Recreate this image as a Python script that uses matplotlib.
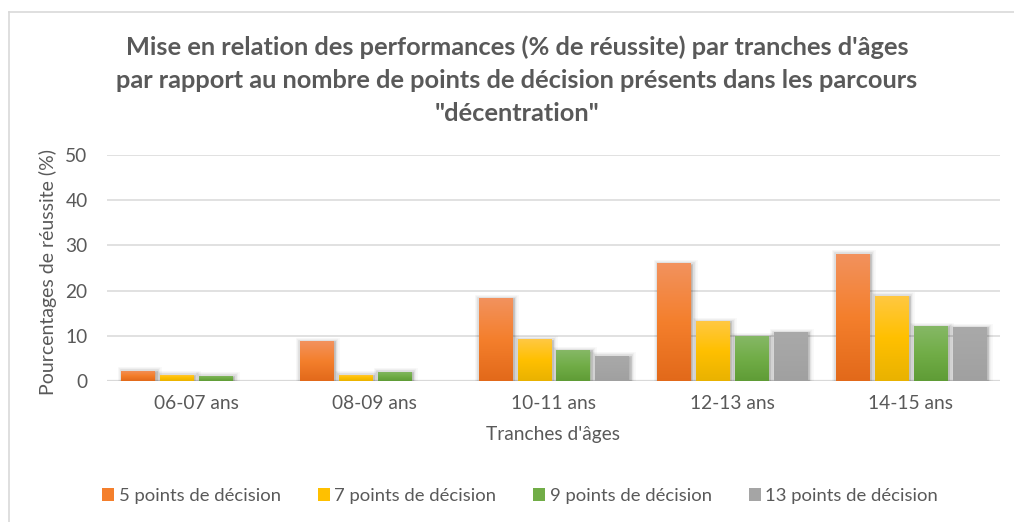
import numpy as np
import matplotlib
matplotlib.use("Agg")
import matplotlib.pyplot as plt
import matplotlib.patheffects as pe
from matplotlib.colors import LinearSegmentedColormap
from matplotlib.lines import Line2D
from matplotlib.patches import Patch

plt.rcParams["font.family"] = ["Lato", "DejaVu Sans"]

# Data
age_groups = ["06-07 ans", "08-09 ans", "10-11 ans", "12-13 ans", "14-15 ans"]
series_names = ["5 points de décision", "7 points de décision",
                "9 points de décision", "13 points de décision"]
pts5 = [2.3, 8.8, 18.3, 26.0, 28.2]
pts7 = [1.4, 1.4, 9.2, 13.2, 18.9]
pts9 = [1.2, 2.1, 6.8, 9.9, 12.1]
pts13 = [np.nan, np.nan, 5.6, 10.8, 11.9]
y_ticks = [0, 10, 20, 30, 40, 50]

title = ("Mise en relation des performances (% de réussite) par tranches d'âges\n"
         "par rapport au nombre de points de décision présents dans les parcours\n"
         "\"décentration\"")
x_label = "Tranches d'âges"
y_label = "Pourcentages de réussite (%)"

# Styling
text_col = "#595959"
grid_col = "#D9D9D9"
# (top, middle, bottom) gradient stops per series
gradients = [
    ("#F2925E", "#F47F2C", "#E2691A"),
    ("#FFC843", "#FFC000", "#E9B200"),
    ("#86B866", "#71AD47", "#5F9C36"),
    ("#A9A9A9", "#A5A5A5", "#A0A0A0"),
]

fig = plt.figure(figsize=(10.14, 5.22), dpi=100)
ax = fig.add_axes([107 / 1014, 1 - 381 / 522, 893 / 1014, 226 / 522])

x = np.arange(len(age_groups))
bar_w = 0.185
step = 0.218
all_series = [pts5, pts7, pts9, pts13]

shadow = [
    pe.Stroke(linewidth=8, foreground="black", alpha=0.025, offset=(1.0, -1.0)),
    pe.Stroke(linewidth=6, foreground="black", alpha=0.04, offset=(1.0, -1.0)),
    pe.Stroke(linewidth=4, foreground="black", alpha=0.07, offset=(1.0, -1.0)),
    pe.Stroke(linewidth=2, foreground="black", alpha=0.12, offset=(0.8, -0.8)),
    pe.Normal(),
]

for i, (vals, grad) in enumerate(zip(all_series, gradients)):
    pos = x + (i - 1.5) * step
    vals = np.asarray(vals, dtype=float)
    mask = ~np.isnan(vals)
    bars = ax.bar(pos[mask], vals[mask], width=bar_w, color=grad[1],
                  edgecolor="none", linewidth=0, zorder=3)
    cmap = LinearSegmentedColormap.from_list(f"g{i}", [grad[2], grad[1], grad[0]])
    for b in bars:
        b.set_path_effects(shadow)
        bx, by = b.get_x(), b.get_y()
        bw, bh = b.get_width(), b.get_height()
        img = ax.imshow(np.linspace(0, 1, 256).reshape(-1, 1), cmap=cmap,
                        origin="lower", aspect="auto",
                        extent=[bx, bx + bw, by, by + bh], zorder=3.5,
                        interpolation="bilinear")
        img.set_clip_path(b)

ax.set_xlim(-0.5, len(age_groups) - 0.5)
ax.set_ylim(0, 50)
ax.set_yticks(y_ticks)
ax.set_xticks(x)
ax.set_xticklabels(age_groups)
ax.yaxis.grid(True, color=grid_col, linewidth=1.1, zorder=0)
ax.set_axisbelow(True)
ax.axhline(0, color=grid_col, linewidth=1.6, zorder=2)
for s in ax.spines.values():
    s.set_visible(False)
ax.tick_params(axis="both", length=0, labelsize=13.8, colors=text_col)
ax.tick_params(axis="y", pad=14)
ax.tick_params(axis="x", pad=10)

ax.set_xlabel(x_label, fontsize=13.8, color=text_col, labelpad=10)
fig.text(48 / 1014, 1 - 272 / 522, y_label, rotation=90, fontsize=14,
         color=text_col, ha="center", va="center")

fig.text(517 / 1014, 1 - 80 / 522, title, ha="center", va="center",
         fontsize=18.3, fontweight="bold", color=text_col, linespacing=1.52)

# Chart frame (top and left edges)
fig.add_artist(Line2D([8.5 / 1014, 1], [1 - 11.5 / 522, 1 - 11.5 / 522],
                      transform=fig.transFigure, color=grid_col, linewidth=1.2))
fig.add_artist(Line2D([8.5 / 1014, 8.5 / 1014], [0, 1 - 11.5 / 522],
                      transform=fig.transFigure, color=grid_col, linewidth=1.2))

handles = [Patch(facecolor=g[1], edgecolor="none") for g in gradients]
fig.legend(handles, series_names, loc="center left",
           bbox_to_anchor=(102 / 1014, 1 - 496 / 522), ncol=4, frameon=False,
           fontsize=13.3, labelcolor=text_col, handlelength=0.65,
           handleheight=0.65, handletextpad=0.25, columnspacing=2.0,
           borderpad=0, borderaxespad=0)

fig.savefig("out.png", dpi=100, facecolor="white")
